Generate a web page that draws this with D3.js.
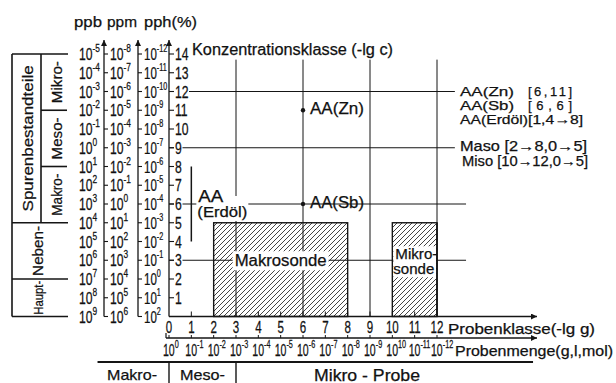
<!DOCTYPE html>
<html>
<head>
<meta charset="utf-8">
<script src="https://d3js.org/d3.v7.min.js"></script>
<style>
body { margin: 0; background: #fff; }
text { font-family: "Liberation Sans", Arial, sans-serif; fill: #111; stroke: #111; stroke-width: 0.25px; }
</style>
</head>
<body>
<div id="chart"></div>
<script>

// concentration classes (-lg c), rows 0..14, and the three unit columns
var rowClasses = [0,1,2,3,4,5,6,7,8,9,10,11,12,13,14];
var classTicks = [1,2,3,4,5,6,7,8,9,10,11,12,13,14];
var ppbExp = ["9","8","7","6","5","4","3","2","1","0","-1","-2","-3","-4","-5"];
var ppmExp = ["6","5","4","3","2","1","0","-1","-2","-3","-4","-5","-6","-7","-8"];
var pphExp = ["2","1","0","-1","-2","-3","-4","-5","-6","-7","-8","-9","-10","-11","-12"];

// sample classes (-lg g) and sample amounts
var sampleTicks = [0,1,2,3,4,5,6,7,8,9,10,11,12];
var amountExp = ["0","-1","-2","-3","-4","-5","-6","-7","-8","-9","10","-11","-12"];

// guide lines
var vGuides = [3,6,9,12];
var hGuides = [{c: 12, end: 12.8}, {c: 9, end: 12.8}, {c: 6, end: 13.3}, {c: 3, end: 13.3}];

// methods
var points = [{name: "AA(Zn)", s: 6, c: 11}, {name: "AA(Sb)", s: 6, c: 6}];
var oilRange = {s: 1, c0: 4, c1: 8};
var probes = [
  {name: "Makrosonde", s0: 2, s1: 8, c0: 0, c1: 5},
  {name: "Mikrosonde", s0: 10, s1: 12, c0: 0, c1: 5}
];

// left classification
var outerBands = [
  {name: "Spurenbestandteile", c0: 5, c1: 14},
  {name: "Neben-", c0: 2, c1: 5},
  {name: "Haupt-", c0: 0, c1: 2}
];
var innerBands = [
  {name: "Makro-", c0: 5, c1: 8},
  {name: "Meso-", c0: 8, c1: 11},
  {name: "Mikro-", c0: 11, c1: 14}
];
// bottom classification
var sampleBands = [
  {name: "Makro-", s0: -3.2, s1: 0},
  {name: "Meso-", s0: 0, s1: 3},
  {name: "Mikro - Probe", s0: 3, s1: 16.3}
];

var legendA = [["AA(Zn)", "[6,11]"], ["AA(Sb)", "[6,6]"], ["AA(Erdöl)[1,4→8]", null]];
var legendB = ["Maso [2→8,0→5]", "Miso [10→12,0→5]"];

var W = 616, H = 383;
var svg = d3.select("#chart").append("svg").attr("width", W).attr("height", H);

var x = d3.scaleLinear().domain([0, 12]).range([169, 437]);
var y = d3.scaleLinear().domain([0, 14]).range([316.5, 54]);

var ink = "#151515";
var defs = svg.append("defs");
var pat = defs.append("pattern").attr("id", "hatch")
  .attr("patternUnits", "userSpaceOnUse").attr("width", 5).attr("height", 5);
pat.append("path").attr("d", "M-1,1 l2,-2 M0,5 l5,-5 M4,6 l2,-2")
  .attr("stroke", ink).attr("stroke-width", 0.8);
defs.append("marker").attr("id", "arr").attr("viewBox", "0 0 10 10")
  .attr("refX", 10).attr("refY", 5).attr("markerUnits", "userSpaceOnUse")
  .attr("markerWidth", 9).attr("markerHeight", 6).attr("orient", "auto")
  .append("path").attr("d", "M0,0 L10,5 L0,10 z").attr("fill", ink);

function line(x1, y1, x2, y2, w) {
  return svg.append("line").attr("x1", x1).attr("y1", y1).attr("x2", x2).attr("y2", y2)
    .attr("stroke", ink).attr("stroke-width", w || 1);
}
function txt(g, px, py, s, size, w) {
  var t = g.append("text").attr("x", px).attr("y", py).attr("font-size", size).text(s);
  if (w) t.attr("textLength", w).attr("lengthAdjust", "spacingAndGlyphs");
  return t;
}
function pow(px, py, e, size, sup, sx, dy) {
  var g = svg.append("g").attr("transform", "translate(" + px + "," + py + ") scale(" + sx + ",1)");
  var t = g.append("text").attr("font-size", size);
  t.append("tspan").text("10");
  t.append("tspan").attr("dy", dy || -7).attr("font-size", sup).text(e);
}
function narrow(px, py, s, size, sx, anchor) {
  svg.append("g").attr("transform", "translate(" + px + "," + py + ") scale(" + sx + ",1)")
    .append("text").attr("font-size", size).attr("text-anchor", anchor || "middle").text(s);
}

// title of the unit columns
txt(svg, 74, 27, "ppb", 15, 28);
txt(svg, 107, 27, "ppm", 15, 30);
txt(svg, 144, 27, "pph(%)", 15, 53);
txt(svg, 192, 55, "Konzentrationsklasse (-lg c)", 16, 201);

// vertical guides
vGuides.forEach(function(s) { line(x(s), y(13.7), x(s), y(0), 1); });
// horizontal guides
hGuides.forEach(function(h) { line(x(0), y(h.c), x(h.end), y(h.c), 1); });

// hatched probe boxes
probes.forEach(function(p) {
  svg.append("rect").attr("x", x(p.s0)).attr("y", y(p.c1))
    .attr("width", x(p.s1) - x(p.s0)).attr("height", y(p.c0) - y(p.c1))
    .attr("fill", "url(#hatch)").attr("stroke", ink).attr("stroke-width", 1.4);
});

// Makrosonde label
var mk = probes[0];
svg.append("rect").attr("x", (x(mk.s0) + x(mk.s1)) / 2 - 48).attr("y", y(3) - 9)
  .attr("width", 96).attr("height", 19).attr("fill", "#fff");
txt(svg, (x(mk.s0) + x(mk.s1)) / 2 - 46, y(3) + 6, "Makrosonde", 16, 92);
// Mikrosonde label
var mi = probes[1];
svg.append("rect").attr("x", x(mi.s0) + 1).attr("y", y(3) - 14)
  .attr("width", x(mi.s1) - x(mi.s0) - 2).attr("height", 31).attr("fill", "#fff");
line(x(mi.s1), y(mi.c1), x(mi.s1), y(0), 1.4);
txt(svg, x(mi.s0) + 3, y(3) - 1, "Mikro-", 14, 42);
txt(svg, x(mi.s0) + 1, y(3) + 14, "sonde", 14, 41);

// AA(Erdöl) range
line(x(oilRange.s), y(oilRange.c1), x(oilRange.s), y(oilRange.c0), 1.5);
svg.append("rect").attr("x", x(oilRange.s) + 5).attr("y", y(6) - 8)
  .attr("width", 52).attr("height", 25).attr("fill", "#fff");
txt(svg, x(oilRange.s) + 7, y(6) - 2, "AA", 16, 25);
txt(svg, x(oilRange.s) + 6, y(6) + 13, "(Erdöl)", 14, 50);

// points
points.forEach(function(p) {
  svg.append("circle").attr("cx", x(p.s)).attr("cy", y(p.c)).attr("r", 2.2).attr("fill", ink);
  txt(svg, x(p.s) + 7, y(p.c) + 4, p.name, 16, 54);
});

// legend on the right
legendA.forEach(function(r, i) {
  var by = y(12) + 4.5 + i * 14;
  txt(svg, 460, by, r[0], 13, r[1] ? 54 : 123);
  if (r[1]) txt(svg, 528, by, r[1], 13, 44).attr("lengthAdjust", "spacing");
});
legendB.forEach(function(r, i) {
  txt(svg, 460 + i * 2, y(9) + 3.5 + i * 14.5, r, 14, 127 - i);
});

// unit column lines
[104, 138].forEach(function(lx) {
  line(lx, y(0), lx, 40, 1.3).attr("marker-end", "url(#arr)");
  rowClasses.forEach(function(c) { line(lx, y(c), lx + 4, y(c), 1.1); });
});
line(x(0), y(0), x(0), 40, 1.3).attr("marker-end", "url(#arr)");
classTicks.forEach(function(c) { line(x(0), y(c), x(0) + 5, y(c), 1.1); });

// unit labels
rowClasses.forEach(function(c, i) {
  pow(79, y(c) + 6, ppbExp[i], 16, 11, 0.76, -8);
  pow(110, y(c) + 6, ppmExp[i], 16, 11, 0.76, -8);
  pow(144, y(c) + 6, pphExp[i], 16, 10, 0.72, -8);
});
classTicks.forEach(function(c) {
  var s = String(c);
  svg.append("rect").attr("x", x(0) + 5).attr("y", y(c) - 6)
    .attr("width", s.length * 6.5 + 2).attr("height", 12).attr("fill", "#fff");
  narrow(x(0) + 6, y(c) + 6, s, 16, 0.76, "start");
});

// left classification boxes
var bx0 = 12, bx1 = 41, bx2 = 68;
line(bx0, y(14), bx2, y(14), 1.6);
line(bx0, y(14), bx0, y(0), 1.6);
line(bx0, y(0), bx2, y(0), 1.6);
line(bx1, y(14), bx1, y(5), 1.6);
outerBands.forEach(function(b) { if (b.c1 < 14) line(bx0, y(b.c1), bx2, y(b.c1), 1.6); });
innerBands.forEach(function(b) { if (b.c1 < 14) line(bx1, y(b.c1), bx2 - 1, y(b.c1), 1.6); });

function vtext(px, cy, s, size, w) {
  var g = svg.append("g").attr("transform", "translate(" + px + "," + cy + ") rotate(-90)");
  txt(g, -w / 2, 0, s, size, w);
}
vtext(33, (y(5) + y(14)) / 2, outerBands[0].name, 14, 146);
vtext(43, (y(2) + y(5)) / 2, outerBands[1].name, 14, 50);
vtext(43, (y(0) + y(2)) / 2, outerBands[2].name, 12, 34);
innerBands.forEach(function(b) {
  vtext(62, (y(b.c0) + y(b.c1)) / 2, b.name, 14, 42);
});

// sample class axis
line(x(0), y(0), 537, y(0), 1.3).attr("marker-end", "url(#arr)");
sampleTicks.forEach(function(s) {
  if (s > 0) line(x(s), y(0) - 5, x(s), y(0), 1);
  narrow(x(s), 333, String(s), 17, 0.68, "middle");
});
txt(svg, 448, 334, "Probenklasse(-lg g)", 14, 147);

// sample amount axis
var ay = 338;
line(x(0) - 3, ay, 537, ay, 1.3).attr("marker-end", "url(#arr)");
line(x(0) - 3, ay - 5, x(0) - 3, ay, 1.2);
sampleTicks.forEach(function(s) { line(x(s), ay - 3, x(s), ay, 1); });
amountExp.forEach(function(e, i) {
  pow(x(sampleTicks[i]) - 6, 356, e, 16, 11, 0.66, -8);
});
txt(svg, 455, 356, "Probenmenge(g,l,mol)", 14, 158);

// bottom classification
line(x(sampleBands[0].s0), 362, x(sampleBands[2].s1), 362, 2);
line(x(0), 362, x(0), 383, 1.4);
line(x(3), 362, x(3), 383, 1.4);
txt(svg, 107, 380, sampleBands[0].name, 15, 50);
txt(svg, 180, 380, sampleBands[1].name, 15, 45);
txt(svg, 314, 381, sampleBands[2].name, 16, 106);

</script>
</body>
</html>
